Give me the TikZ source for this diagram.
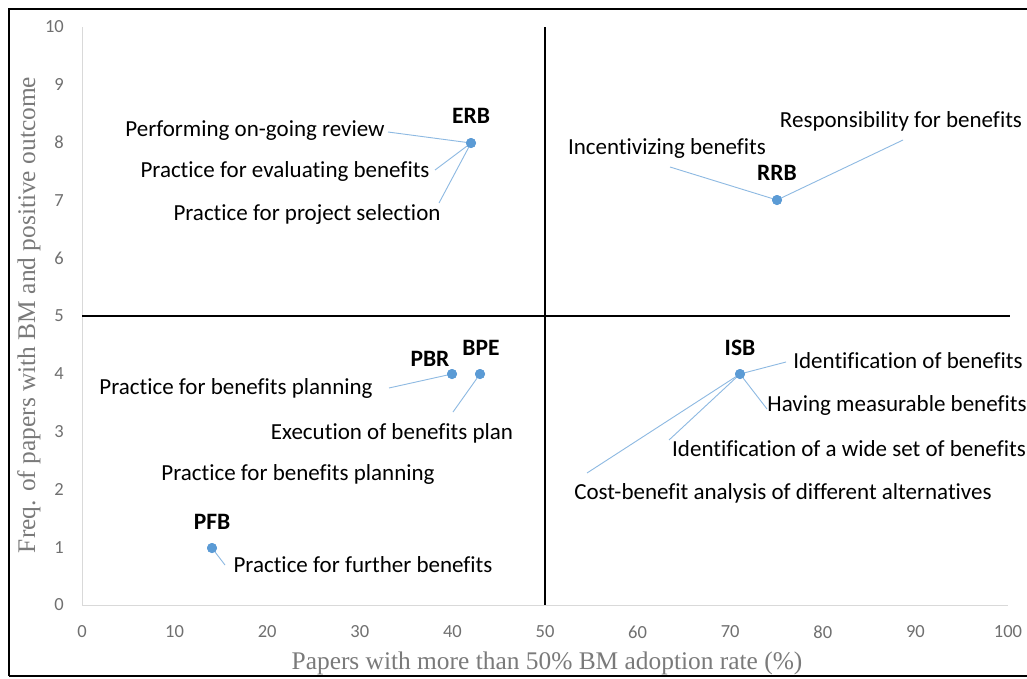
\documentclass[tikz,border=0pt]{standalone}
\usepackage{fontspec}
\setmainfont{Carlito}[Ligatures=NoCommon]
\newfontfamily\serifx{Liberation Serif}
\definecolor{ptblue}{HTML}{5B9BD5}
\definecolor{lnblue}{HTML}{8DB9E2}
\definecolor{axgray}{HTML}{D9D9D9}
\definecolor{tickgray}{HTML}{707070}
\definecolor{titlegray}{HTML}{7A7A7A}
\begin{document}
\begin{tikzpicture}[x=1pt,y=-1pt,
  dot/.style={circle,fill=ptblue,inner sep=0pt,minimum size=10pt},
  lbl/.style={font=\fontsize{23}{25}\selectfont,inner sep=0pt,text=black},
  code/.style={font=\fontsize{23.5}{25}\selectfont\bfseries,inner sep=0pt},
  tick/.style={font=\fontsize{18.5}{20}\selectfont,text=tickgray,inner sep=0pt},
  lead/.style={draw=lnblue,line width=0.9pt},
  quad/.style={draw=black,line width=1.6pt}]
\useasboundingbox (0,0) rectangle (1027,678);
\fill[white] (0,0) rectangle (1027,678);
\draw[line width=2pt] (9,676) -- (9,9) -- (1035,9);
\draw[line width=2pt] (9,676) -- (1035,676);
% axes
\draw[axgray,line width=1pt] (82,27) -- (82,605) -- (1008,605);
% quadrant lines
\draw[quad] (545,27) -- (545,605);
\draw[quad] (82,316) -- (1010,316);
% y ticks
\foreach \v in {0,...,10}{
  \node[tick,anchor=east] (yt\v) at (64,605-57.8*\v) {\v};
}
% x ticks
\foreach \v in {0,10,...,100}{
  \node[tick] (xt\v) at (82+9.26*\v,632) {\v};
}
% axis titles
\node[font=\serifx\fontsize{25.4}{27}\selectfont,text=titlegray,inner sep=0pt] (xtitle) at (547,663) {Papers with more than 50\% BM adoption rate (\%)};
\node[font=\serifx\fontsize{25.4}{27}\selectfont,text=titlegray,inner sep=0pt,rotate=90] (ytitle) at (29,315) {Freq. of papers with BM and positive outcome};
% points
\node[dot] (ERB) at (471,143) {};
\node[dot] (RRB) at (777,200) {};
\node[dot] (PBR) at (452,374) {};
\node[dot] (BPE) at (480,374) {};
\node[dot] (ISB) at (740,374) {};
\node[dot] (PFB) at (212,548) {};
% codes
\node[code] (cERB) at (471,116) {ERB};
\node[code] (cRRB) at (777,173) {RRB};
\node[code] (cPBR) at (430,359) {PBR};
\node[code] (cBPE) at (481,348) {BPE};
\node[code] (cISB) at (740,348) {ISB};
\node[code] (cPFB) at (212,522) {PFB};
% labels
\node[lbl] (l1) at (255,131) {Performing on-going review};
\node[lbl] (l2) at (285,171) {Practice for evaluating benefits};
\node[lbl] (l3) at (307,214) {Practice for project selection};
\node[lbl] (l4) at (667,148) {Incentivizing benefits};
\node[lbl] (l5) at (901,121) {Responsibility for benefits};
\node[lbl] (l6) at (236,388) {Practice for benefits planning};
\node[lbl] (l7) at (392,433) {Execution of benefits plan};
\node[lbl] (l8) at (298,474) {Practice for benefits planning};
\node[lbl] (l9) at (363,565) {Practice for further benefits};
\node[lbl] (l10) at (908,361) {Identification of benefits};
\node[lbl] (l11) at (897,405) {Having measurable benefits};
\node[lbl] (l12) at (849,449) {Identification of a wide set of benefits};
\node[lbl] (l13) at (783,493) {Cost-benefit analysis of different alternatives};
% leader ends
\coordinate (e1) at (388,132);
\coordinate (e2) at (435,170);
\coordinate (e3) at (439,203);
\coordinate (e4) at (670,167);
\coordinate (e5) at (903,140);
\coordinate (e6) at (389,388);
\coordinate (e7) at (453,412);
\coordinate (e9) at (225,565);
\coordinate (e10) at (786,362);
\coordinate (e11) at (767,409);
\coordinate (e12) at (669,440);
\coordinate (e13) at (587,473);
% leaders
\draw[lead] (e1) -- (ERB.center);
\draw[lead] (e2) -- (ERB.center);
\draw[lead] (e3) -- (ERB.center);
\draw[lead] (e4) -- (RRB.center);
\draw[lead] (e5) -- (RRB.center);
\draw[lead] (e6) -- (PBR.center);
\draw[lead] (e7) -- (BPE.center);
\draw[lead] (e9) -- (PFB.center);
\draw[lead] (e10) -- (ISB.center);
\draw[lead] (e11) -- (ISB.center);
\draw[lead] (e12) -- (ISB.center);
\draw[lead] (e13) -- (ISB.center);
% redraw dots on top
\foreach \n in {ERB,RRB,PBR,BPE,ISB,PFB}{\fill[ptblue] (\n) circle (5);}
\end{tikzpicture}
\end{document}
